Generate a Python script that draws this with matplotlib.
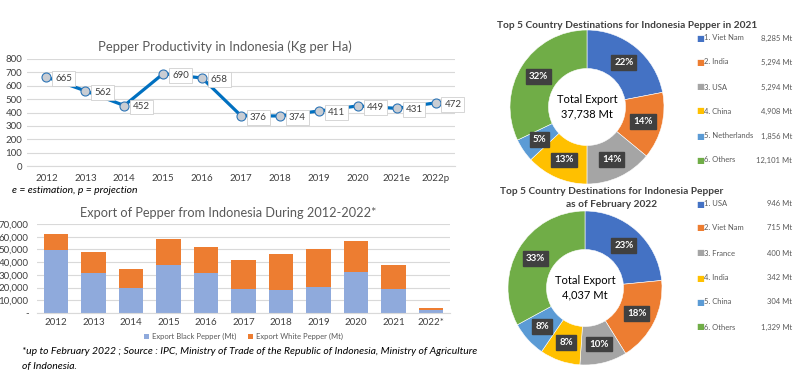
import matplotlib
matplotlib.use("Agg")
import matplotlib.pyplot as plt
import numpy as np

plt.rcParams['font.family'] = ['Lato', 'DejaVu Sans']

# productivity line chart
prod_years = ['2012', '2013', '2014', '2015', '2016', '2017', '2018', '2019', '2020', '2021e', '2022p']
prod_values = [665, 562, 452, 690, 658, 376, 374, 411, 449, 431, 472]

# export bar chart
exp_years = ['2012', '2013', '2014', '2015', '2016', '2017', '2018', '2019', '2020', '2021', '2022*']
black_pepper = [49500, 31500, 19500, 38000, 31500, 19000, 18300, 20500, 32000, 19200, 2000]
white_pepper = [13000, 16300, 15500, 20000, 20200, 22700, 28200, 29800, 24800, 18600, 2000]

# donuts
d1_countries = ['1. Viet Nam', '2. India', '3. USA', '4. China', '5. Netherlands', '6. Others']
d1_values = [8285, 5294, 5294, 4908, 1856, 12101]
d2_countries = ['1. USA', '2. Viet Nam', '3. France', '4. India', '5. China', '6. Others']
d2_values = [946, 715, 400, 342, 304, 1329]

donut_colors = ['#4472C4', '#ED7D31', '#A5A5A5', '#FFC000', '#5B9BD5', '#70AD47']
W, H = 800, 377

fig = plt.figure(figsize=(8, 3.77), dpi=100)


def px_rect(x0, y0, x1, y1):
    # pixel box (top-left origin) -> figure fraction rect
    return [x0 / W, 1 - y1 / H, (x1 - x0) / W, (y1 - y0) / H]


# ---- line chart ----
ax1 = fig.add_axes(px_rect(27, 59, 455, 166))
x = np.arange(len(prod_years))
ax1.plot(x, prod_values, color='#0070C0', lw=2.3, marker='o', markersize=6.5,
         markerfacecolor='#C9CDD3', markeredgecolor='#2E75B6', markeredgewidth=0.8, zorder=3)
for xi, v in zip(x, prod_values):
    ax1.annotate(str(v), (xi, v), xytext=(12.5, -1), textcoords='offset points',
                 ha='center', va='center', fontsize=7, color='#404040',
                 bbox=dict(boxstyle='square,pad=0.3', facecolor='white', edgecolor='#D0D0D0', lw=0.6),
                 zorder=4)
ax1.set_xlim(-0.5, len(prod_years) - 0.5)
ax1.set_ylim(0, 800)
ax1.set_yticks(range(0, 801, 100))
ax1.set_xticks(x)
ax1.set_xticklabels(prod_years)
ax1.tick_params(labelsize=7, length=0, colors='#404040')
ax1.tick_params(axis='x', pad=6)
ax1.grid(axis='y', color='#D9D9D9', lw=0.8)
ax1.set_axisbelow(True)
for s in ['top', 'right', 'left']:
    ax1.spines[s].set_visible(False)
ax1.spines['bottom'].set_color('#D9D9D9')
fig.text(225 / W, 1 - 47 / H, 'Pepper Productivity in Indonesia (Kg per Ha)',
         ha='center', va='center', fontsize=9.4, color='#595959')
fig.text(12 / W, 1 - 191 / H, 'e = estimation, p = projection',
         ha='left', va='center', fontsize=7.5, style='italic', color='black')

# ---- bar chart ----
ax2 = fig.add_axes(px_rect(37, 224, 450, 313))
xb = np.arange(len(exp_years))
ax2.bar(xb, black_pepper, width=0.65, color='#8FAADC', label='Export Black Pepper (Mt)', zorder=2)
ax2.bar(xb, white_pepper, width=0.65, bottom=black_pepper, color='#ED7D31',
        label='Export White Pepper (Mt)', zorder=2)
ax2.set_xlim(-0.5, len(exp_years) - 0.5)
ax2.set_ylim(0, 70000)
ax2.set_yticks(range(0, 70001, 10000))
ax2.set_yticklabels(['-'] + [f'{v:,}' for v in range(10000, 70001, 10000)])
ax2.set_xticks(xb)
ax2.set_xticklabels(exp_years)
ax2.tick_params(labelsize=7, length=0, colors='#404040')
ax2.tick_params(axis='y', pad=6)
ax2.grid(axis='y', color='#D9D9D9', lw=0.8)
ax2.set_axisbelow(True)
for s in ['top', 'right', 'left']:
    ax2.spines[s].set_visible(False)
ax2.spines['bottom'].set_color('#D9D9D9')
ax2.legend(loc='upper center', bbox_to_anchor=(0.5, -0.15), ncol=2, frameon=False,
           fontsize=5.5, handlelength=0.7, handleheight=0.7, columnspacing=1.5,
           handletextpad=0.4, labelcolor='#595959')
fig.text(228 / W, 1 - 213 / H, 'Export of Pepper from Indonesia During 2012-2022*',
         ha='center', va='center', fontsize=9.2, color='#595959')
fig.text(22 / W, 1 - 352 / H,
         '*up to February 2022 ; Source : IPC, Ministry of Trade of the Republic of Indonesia, Ministry of Agriculture',
         ha='left', va='center', fontsize=7.5, style='italic')
fig.text(22 / W, 1 - 366 / H, 'of Indonesia.', ha='left', va='center', fontsize=7.5, style='italic')


# ---- donuts ----
def donut(cx, cy, r, values, countries, total_text, leg_y):
    pad = 4
    ax = fig.add_axes(px_rect(cx - r - pad, cy - r - pad, cx + r + pad, cy + r + pad))
    wedges, _ = ax.pie(values, colors=donut_colors, startangle=90, counterclock=False,
                       radius=1, wedgeprops=dict(width=0.5, edgecolor='white', linewidth=0.4))
    lim = (r + pad) / r
    ax.set_xlim(-lim, lim)
    ax.set_ylim(-lim, lim)
    ax.set_aspect('equal')
    ax.axis('off')
    total = sum(values)
    for w, v in zip(wedges, values):
        ang = np.deg2rad((w.theta1 + w.theta2) / 2)
        ax.text(0.75 * np.cos(ang), 0.75 * np.sin(ang), f'{round(100 * v / total)}%',
                ha='center', va='center', fontsize=7, fontweight='bold', color='white',
                bbox=dict(boxstyle='square,pad=0.3', facecolor='#404040', edgecolor='#404040'))
    ax.text(0, 0, total_text, ha='center', va='center', fontsize=8, color='black',
            linespacing=1.35)
    for i, (c, v) in enumerate(zip(countries, values)):
        yy = 1 - leg_y[i] / H
        fig.text(696 / W, yy, '\u25A0', ha='left', va='center', fontsize=6, color=donut_colors[i])
        fig.text(704 / W, yy, c, ha='left', va='center', fontsize=5.5, color='#595959')
        fig.text(792 / W, yy, f'{v:,} Mt', ha='right', va='center', fontsize=5.5, color='#595959')


donut(587, 107, 77, d1_values, d1_countries, 'Total Export\n37,738 Mt',
      [38, 62, 87, 111, 136, 160])
donut(585, 288, 77, d2_values, d2_countries, 'Total Export\n4,037 Mt',
      [204, 228, 253, 278, 302, 327])

fig.text(627 / W, 1 - 26 / H, 'Top 5 Country Destinations for Indonesia Pepper in 2021',
         ha='center', va='center', fontsize=7.3, fontweight='bold', color='#404040')
fig.text(612 / W, 1 - 192 / H, 'Top 5 Country Destinations for Indonesia Pepper',
         ha='center', va='center', fontsize=7.3, fontweight='bold', color='#404040')
fig.text(612 / W, 1 - 205 / H, 'as of February 2022',
         ha='center', va='center', fontsize=7.3, fontweight='bold', color='#404040')

fig.savefig('out.png', dpi=100)
